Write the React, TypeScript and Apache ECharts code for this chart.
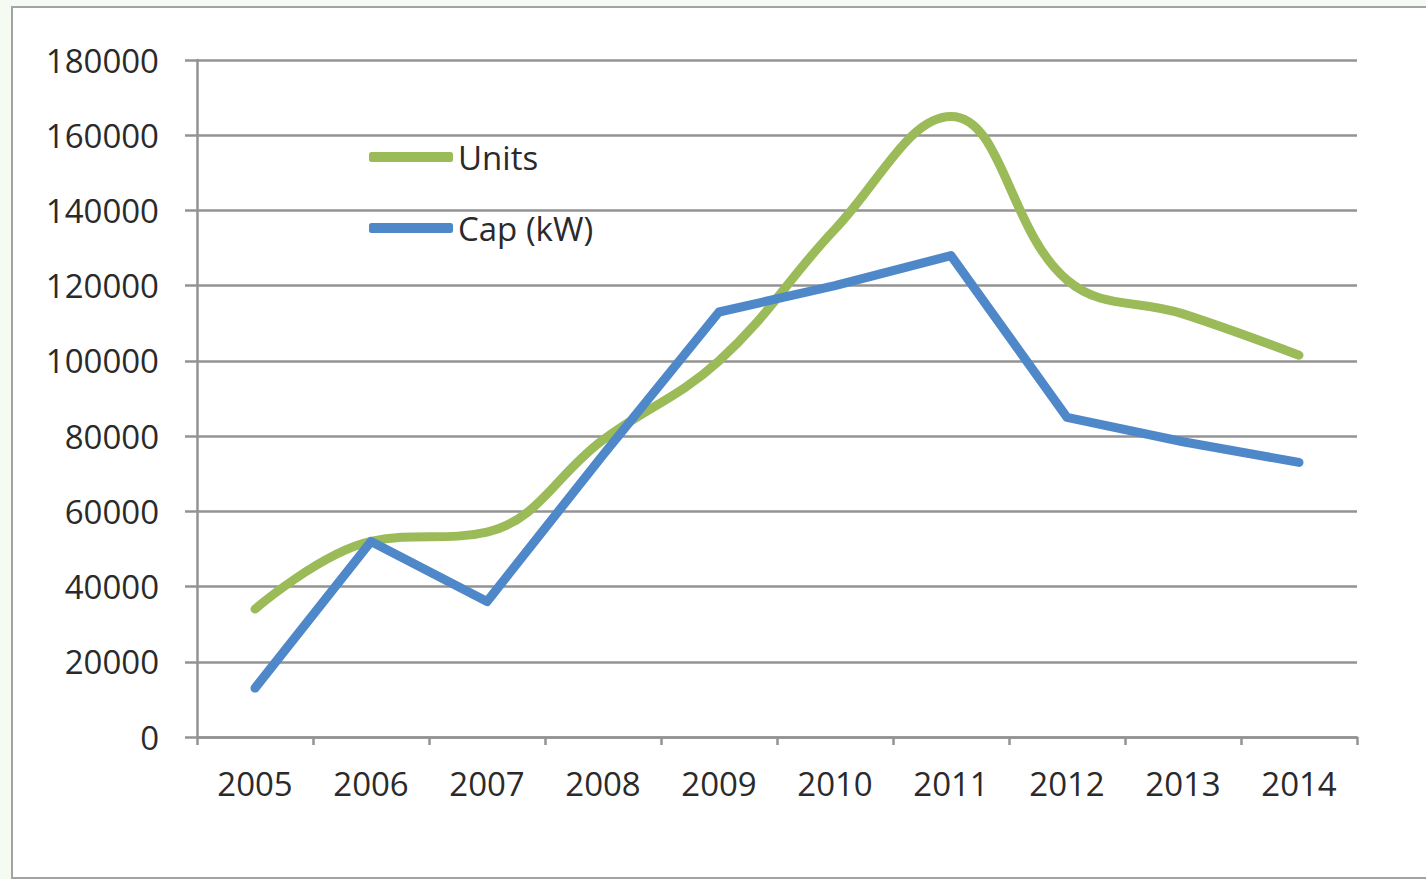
import React, { useEffect, useRef } from "react";
import * as echarts from "echarts";

const years = ["2005", "2006", "2007", "2008", "2009", "2010", "2011", "2012", "2013", "2014"];
const units = [34000, 52000, 54500, 79000, 100000, 135000, 165000, 121500, 112500, 101500];
const capKW = [13000, 52000, 36000, 75000, 113000, 120000, 128000, 85000, 78500, 73000];
const seriesNames = ["Units", "Cap (kW)"];

const FONT = "'Open Sans', 'Liberation Sans', sans-serif";
const GRID_COLOR = "#939393";
const TEXT_COLOR = "#2a2a2a";

export default function App() {
  const ref = useRef<HTMLDivElement>(null);
  useEffect(() => {
    document.body.style.margin = "0";
    if (!ref.current) return;
    const chart = echarts.init(ref.current, null, { renderer: "svg" });
    chart.setOption({
      animation: false,
      backgroundColor: "#f5faf3",
      graphic: [
        {
          type: "rect",
          z: -10,
          shape: { x: 12, y: 7, width: 1430, height: 871 },
          style: { fill: "#ffffff", stroke: "#a3a3a3", lineWidth: 2 },
          silent: true,
        },
      ],
      grid: { left: 197, right: 69, top: 60, bottom: 142, containLabel: false },
      legend: {
        data: seriesNames,
        orient: "vertical",
        left: 364,
        top: 134,
        itemWidth: 84,
        itemHeight: 10,
        itemGap: 35,
        icon: "roundRect",
        textStyle: { fontFamily: FONT, fontSize: 33, color: TEXT_COLOR, lineHeight: 36 },
      },
      xAxis: {
        type: "category",
        data: years,
        boundaryGap: true,
        axisLine: { show: true, lineStyle: { color: GRID_COLOR, width: 2.5 } },
        axisTick: { show: true, length: 8, alignWithLabel: false, lineStyle: { color: GRID_COLOR, width: 2.5 } },
        axisLabel: { fontFamily: FONT, fontSize: 33, color: TEXT_COLOR, margin: 30 },
        splitLine: { show: false },
      },
      yAxis: {
        type: "value",
        min: 0,
        max: 180000,
        interval: 20000,
        axisLine: { show: true, lineStyle: { color: GRID_COLOR, width: 2.5 } },
        axisTick: { show: true, length: 12, lineStyle: { color: GRID_COLOR, width: 2.5 } },
        axisLabel: {
          fontFamily: FONT,
          fontSize: 33,
          color: TEXT_COLOR,
          margin: 38,
          formatter: (v: number) => String(v),
        },
        splitLine: { show: true, lineStyle: { color: GRID_COLOR, width: 2.5 } },
      },
      series: [
        {
          name: seriesNames[0],
          type: "line",
          data: units,
          smooth: 0.4,
          symbol: "none",
          lineStyle: { color: "#9bbb59", width: 9, cap: "round", join: "round" },
          itemStyle: { color: "#9bbb59" },
        },
        {
          name: seriesNames[1],
          type: "line",
          data: capKW,
          smooth: false,
          symbol: "none",
          lineStyle: { color: "#4f88c9", width: 9, cap: "round", join: "round" },
          itemStyle: { color: "#4f88c9" },
        },
      ],
    });
    return () => chart.dispose();
  }, []);
  return <div ref={ref} style={{ width: 1426, height: 879 }} />;
}
